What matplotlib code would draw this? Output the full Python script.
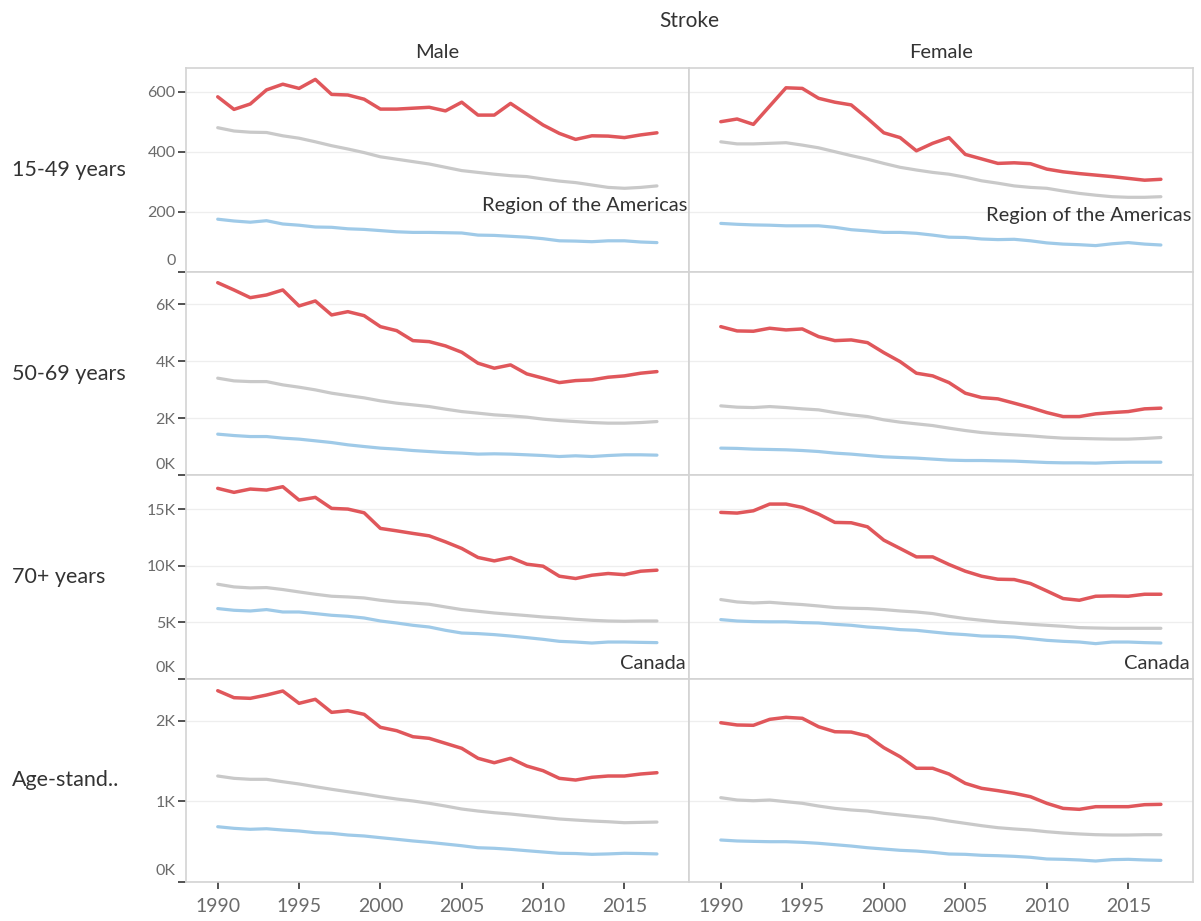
import matplotlib
matplotlib.use("Agg")
import matplotlib.pyplot as plt
from matplotlib.transforms import ScaledTranslation

plt.rcParams["font.family"] = ["Lato", "DejaVu Sans"]

years = list(range(1990, 2018))
sexes = ["Male", "Female"]
age_groups = ["15-49 years", "50-69 years", "70+ years", "Age-stand.."]

# ---- 15-49 years ----
highest_male_15_49 = [583, 541, 559, 606, 625, 611, 641, 591, 589, 575, 542, 542, 545, 548,
                      536, 565, 522, 522, 561, 525, 489, 461, 441, 453, 452, 447, 456, 463]
americas_male_15_49 = [480, 469, 465, 464, 453, 445, 433, 420, 409, 397, 383, 375, 367, 359,
                       348, 337, 331, 325, 320, 317, 309, 302, 297, 289, 281, 278, 281, 286]
canada_male_15_49 = [175, 169, 165, 170, 159, 155, 149, 148, 143, 141, 137, 133, 131, 131,
                     130, 129, 122, 121, 118, 115, 110, 103, 102, 100, 103, 103, 99, 97]
highest_female_15_49 = [500, 509, 491, 552, 613, 611, 578, 565, 556, 511, 463, 447, 403, 428,
                        447, 391, 376, 361, 363, 360, 342, 333, 327, 322, 317, 311, 305, 308]
americas_female_15_49 = [433, 426, 426, 428, 430, 422, 413, 400, 387, 375, 361, 348, 339, 331,
                         325, 315, 303, 295, 286, 281, 278, 269, 261, 255, 250, 248, 248, 250]
canada_female_15_49 = [161, 158, 156, 155, 153, 153, 153, 148, 140, 136, 131, 131, 128, 122,
                       115, 114, 109, 107, 108, 103, 96, 92, 90, 87, 93, 97, 92, 89]

# ---- 50-69 years ----
highest_male_50_69 = [6755, 6500, 6230, 6325, 6500, 5940, 6115, 5625, 5740, 5600, 5215, 5075,
                      4725, 4690, 4540, 4318, 3934, 3759, 3875, 3560, 3410, 3255, 3325, 3350,
                      3443, 3490, 3584, 3640]
americas_male_50_69 = [3410, 3315, 3290, 3290, 3175, 3094, 3000, 2884, 2800, 2720, 2615, 2534,
                       2475, 2415, 2324, 2240, 2184, 2125, 2090, 2044, 1974, 1925, 1890, 1855,
                       1834, 1834, 1855, 1890]
canada_male_50_69 = [1449, 1400, 1365, 1365, 1309, 1274, 1215, 1155, 1075, 1015, 959, 924,
                     875, 840, 805, 784, 749, 760, 749, 725, 700, 665, 690, 665, 700, 725, 725, 713]
highest_female_50_69 = [5215, 5065, 5054, 5159, 5100, 5135, 4865, 4725, 4750, 4655, 4305, 3990,
                        3584, 3490, 3255, 2884, 2730, 2685, 2534, 2380, 2205, 2065, 2065, 2160,
                        2205, 2240, 2335, 2359]
americas_female_50_69 = [2440, 2394, 2380, 2415, 2380, 2335, 2300, 2205, 2125, 2065, 1950, 1869,
                         1810, 1750, 1659, 1575, 1505, 1460, 1425, 1390, 1344, 1309, 1298, 1285,
                         1275, 1275, 1298, 1330]
canada_female_50_69 = [959, 949, 924, 912, 900, 875, 840, 784, 749, 700, 654, 630, 609, 574,
                       539, 525, 525, 514, 504, 480, 455, 444, 444, 434, 455, 466, 466, 466]

# ---- 70+ years ----
highest_male_70 = [16833, 16479, 16772, 16683, 16978, 15797, 16036, 15062, 15000, 14672, 13290,
                   13077, 12847, 12634, 12102, 11518, 10720, 10419, 10720, 10127, 9950, 9064,
                   8860, 9152, 9303, 9200, 9507, 9595]
americas_male_70 = [8355, 8117, 8029, 8058, 7885, 7673, 7469, 7292, 7230, 7141, 6937, 6787,
                    6698, 6583, 6344, 6113, 5963, 5812, 5697, 5582, 5458, 5369, 5254, 5165,
                    5103, 5077, 5103, 5103]
canada_male_70 = [6202, 6051, 5989, 6113, 5900, 5900, 5759, 5608, 5520, 5369, 5103, 4926, 4722,
                  4572, 4279, 4040, 3987, 3898, 3774, 3632, 3482, 3305, 3243, 3154, 3243, 3243,
                  3213, 3190]
highest_female_70 = [14707, 14646, 14849, 15443, 15443, 15150, 14557, 13821, 13791, 13432, 12253,
                     11518, 10773, 10773, 10100, 9507, 9064, 8798, 8768, 8417, 7761, 7088, 6937,
                     7292, 7320, 7292, 7469, 7469]
americas_female_70 = [6999, 6787, 6698, 6757, 6645, 6556, 6432, 6290, 6228, 6200, 6113, 5989,
                      5900, 5759, 5520, 5316, 5165, 5015, 4926, 4811, 4722, 4634, 4518, 4483,
                      4456, 4456, 4456, 4456]
canada_female_70 = [5227, 5103, 5050, 5030, 5030, 4961, 4930, 4811, 4722, 4572, 4483, 4341,
                    4279, 4129, 3987, 3898, 3774, 3748, 3686, 3544, 3393, 3305, 3243, 3101,
                    3243, 3243, 3190, 3154]

# ---- Age-standardized ----
highest_male_std = [2373, 2286, 2278, 2319, 2369, 2216, 2266, 2104, 2124, 2079, 1918, 1876,
                    1801, 1781, 1719, 1657, 1533, 1478, 1533, 1437, 1379, 1284, 1263, 1297,
                    1313, 1313, 1338, 1354]
americas_male_std = [1313, 1284, 1272, 1272, 1242, 1214, 1180, 1148, 1118, 1089, 1056, 1027,
                     1003, 974, 940, 903, 878, 857, 841, 820, 800, 779, 766, 754, 745, 733,
                     737, 741]
canada_male_std = [683, 663, 651, 658, 642, 630, 609, 601, 580, 568, 547, 527, 506, 489, 468,
                   447, 422, 415, 402, 385, 369, 353, 350, 340, 345, 353, 350, 345]
highest_female_std = [1975, 1947, 1943, 2017, 2042, 2030, 1925, 1863, 1859, 1810, 1665, 1553,
                      1409, 1409, 1338, 1222, 1160, 1131, 1098, 1056, 974, 911, 899, 932, 932,
                      932, 957, 961]
americas_female_std = [1044, 1015, 1006, 1015, 994, 974, 940, 911, 891, 878, 850, 829, 808,
                       788, 754, 725, 696, 671, 655, 642, 621, 605, 593, 584, 580, 580, 584, 584]
canada_female_std = [518, 506, 501, 497, 497, 489, 477, 460, 443, 422, 406, 390, 381, 365,
                     344, 340, 328, 323, 315, 303, 282, 278, 270, 257, 274, 278, 270, 265]

ytick_values = [[0, 200, 400, 600], [0, 2000, 4000, 6000],
                [0, 5000, 10000, 15000], [0, 1000, 2000]]
ytick_labels = [["0", "200", "400", "600"], ["0K", "2K", "4K", "6K"],
                ["0K", "5K", "10K", "15K"], ["0K", "1K", "2K"]]
xtick_values = [1990, 1995, 2000, 2005, 2010, 2015]

panels = {
    (0, 0): (highest_male_15_49, americas_male_15_49, canada_male_15_49),
    (0, 1): (highest_female_15_49, americas_female_15_49, canada_female_15_49),
    (1, 0): (highest_male_50_69, americas_male_50_69, canada_male_50_69),
    (1, 1): (highest_female_50_69, americas_female_50_69, canada_female_50_69),
    (2, 0): (highest_male_70, americas_male_70, canada_male_70),
    (2, 1): (highest_female_70, americas_female_70, canada_female_70),
    (3, 0): (highest_male_std, americas_male_std, canada_male_std),
    (3, 1): (highest_female_std, americas_female_std, canada_female_std),
}

RED = "#e0575b"
GREY = "#c9c9c9"
BLUE = "#9fcae8"
BORDER = "#d3d3d3"
TEXT = "#333333"
TICKTEXT = "#6b6b6b"

W, H = 1201, 921
fig = plt.figure(figsize=(W / 100, H / 100), dpi=100)
fig.patch.set_facecolor("white")

col_edges = [(186, 689), (689, 1193)]
row_edges = [(67.7, 271.7), (271.7, 475.5), (475.5, 678.7), (678.7, 881.7)]
ytops = [680, 7140, 17970, 2522]
xlim = (1988.05, 2018.97)

# nudge for the bottom (zero) y label so it sits above its tick
zero_shift = ScaledTranslation(0, 4 / 100, fig.dpi_scale_trans)

for (r, c), (high, amer, can) in panels.items():
    x0, x1 = col_edges[c]
    top, bot = row_edges[r]
    ax = fig.add_axes([x0 / W, 1 - bot / H, (x1 - x0) / W, (bot - top) / H])
    ax.set_xlim(*xlim)
    ax.set_ylim(0, ytops[r])

    ax.plot(years, amer, color=GREY, lw=2.3, solid_joinstyle="round",
            solid_capstyle="round", zorder=3)
    ax.plot(years, can, color=BLUE, lw=2.3, solid_joinstyle="round",
            solid_capstyle="round", zorder=3)
    ax.plot(years, high, color=RED, lw=2.5, solid_joinstyle="round",
            solid_capstyle="round", zorder=4)

    for sp in ax.spines.values():
        sp.set_color(BORDER)
        sp.set_linewidth(1.2)

    ax.set_yticks(ytick_values[r])
    ax.yaxis.grid(True, color="#eeeeee", lw=0.9, zorder=0)
    ax.set_axisbelow(True)
    if c == 0:
        ax.set_yticklabels(ytick_labels[r])
        ax.tick_params(axis="y", length=5.5, width=1.3, color="#444444",
                       pad=2, labelsize=11.5, labelcolor=TICKTEXT)
        zero_label = ax.get_yticklabels()[0]
        zero_label.set_verticalalignment("bottom")
        zero_label.set_transform(zero_label.get_transform() + zero_shift)
    else:
        ax.tick_params(axis="y", left=False, labelleft=False)

    ax.set_xticks(xtick_values)
    if r == 3:
        ax.set_xticklabels([str(v) for v in xtick_values])
        ax.tick_params(axis="x", length=5, width=1.3, color="#444444",
                       pad=7, labelsize=14, labelcolor=TICKTEXT)
    else:
        ax.tick_params(axis="x", bottom=False, labelbottom=False)

    # line labels
    if r == 0:
        ylab = 219 if c == 0 else 186
        ax.text(2018.85, ylab, "Region of the Americas", ha="right", va="center",
                fontsize=14.5, color=TEXT, zorder=5)
    if r == 2:
        ax.text(2018.75, 1382, "Canada", ha="right", va="center",
                fontsize=14.5, color=TEXT, zorder=5)

# headers
fig.text(689 / W, 1 - 20.7 / H, "Stroke", ha="center", va="center",
         fontsize=15, color=TEXT)
for c, name in enumerate(sexes):
    x0, x1 = col_edges[c]
    fig.text((x0 + x1) / 2 / W, 1 - 53 / H, name, ha="center", va="center",
             fontsize=14.5, color=TEXT)
for r, name in enumerate(age_groups):
    top, bot = row_edges[r]
    fig.text(12 / W, 1 - (top + bot) / 2 / H, name, ha="left", va="center",
             fontsize=15.5, color=TEXT)

fig.savefig("out.png", dpi=100, facecolor="white")
